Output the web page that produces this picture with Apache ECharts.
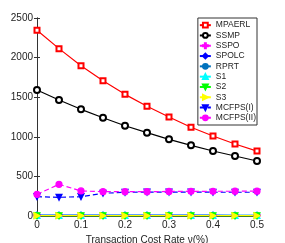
<!DOCTYPE html>
<html><head><meta charset="utf-8">
<script src="https://cdn.jsdelivr.net/npm/echarts@6/dist/echarts.min.js"></script>
<style>html,body{margin:0;padding:0;background:#fff}#c{width:285px;height:243px}</style>
</head><body><div id="c"></div>
<script>
const rates = [0, 0.05, 0.1, 0.15, 0.2, 0.25, 0.3, 0.35, 0.4, 0.45, 0.5];
const MPAERL = [2345, 2113, 1898, 1708, 1536, 1385, 1250, 1120, 1010, 909, 820];
const SSMP = [1591, 1465, 1347, 1241, 1140, 1052, 968, 892, 821, 758, 694];
const SSPO = [6, 6, 6, 6, 6, 6, 6, 6, 6, 6, 6];
const SPOLC = [12, 12, 11, 11, 11, 10, 10, 10, 10, 9, 9];
const RPRT = [3, 3, 3, 3, 3, 3, 3, 3, 3, 3, 3];
const S1 = [8, 8, 8, 8, 8, 8, 8, 8, 8, 8, 8];
const S2 = [2, 2, 2, 2, 2, 2, 2, 2, 2, 2, 2];
const S3 = [4, 4, 4, 4, 4, 4, 4, 4, 4, 4, 4];
const MCFPS1 = [244, 236, 244, 287, 299, 302, 302, 302, 300, 300, 300];
const MCFPS2 = [274, 400, 316, 307, 307, 307, 310, 312, 312, 313, 314];
const yTicks = [0, 500, 1000, 1500, 2000, 2500];
const xTicks = [0, 0.1, 0.2, 0.3, 0.4, 0.5];

const plus = 'path://M4,0L6,0L6,4L10,4L10,6L6,6L6,10L4,10L4,6L0,6L0,4L4,4Z';
function pts(arr){ return arr.map((v,i)=>[rates[i], v]); }
function mk(name, data, color, symbol, opts){
  return Object.assign({
    name, type:'line', data: pts(data), symbol, symbolSize: 6,
    lineStyle:{color, width:1.2}, itemStyle:{color, borderColor: color, borderWidth:1.2},
    animation:false
  }, opts||{});
}
const font = 'Liberation Sans, Arial, sans-serif';
const series = [
  mk('MPAERL', MPAERL, '#ff0000', 'emptyRect', {symbolSize:5}),
  mk('SSMP', SSMP, '#000000', 'emptyCircle'),
  mk('SSPO', SSPO, '#ff00ff', plus),
  mk('SPOLC', SPOLC, '#0000ff', 'diamond'),
  mk('RPRT', RPRT, '#0072bd', 'circle', {symbolSize:4}),
  mk('S1', S1, '#00ffff', 'triangle'),
  mk('S2', S2, '#00ff00', 'triangle', {symbolRotate:180}),
  mk('S3', S3, '#ffff00', 'triangle', {symbolRotate:-90}),
  mk('MCFPS(I)', MCFPS1, '#0000ff', 'triangle', {symbolRotate:180, lineStyle:{color:'#0000ff', width:1.2, type:[5,3]}}),
  mk('MCFPS(II)', MCFPS2, '#ff00ff', 'circle', {symbolSize:6, lineStyle:{color:'#ff00ff', width:1.2, type:[5,3]}})
];
const axisLine = {show:true, lineStyle:{color:'#333', width:1}};
const chart = echarts.init(document.getElementById('c'), null, {renderer:'canvas'});
chart.setOption({
  backgroundColor:'#fff',
  animation:false,
  grid:{left:37, right:28, top:18, bottom:27, containLabel:false, outerBoundsMode:'none'},
  xAxis:[{
    type:'value', min:0, max:0.5, interval:0.1,
    axisLine, axisTick:{show:true, inside:true, length:3, lineStyle:{color:'#333'}},
    axisLabel:{color:'#222', fontSize:10, fontFamily:font, margin:4,
      formatter:v=>{const t=xTicks.find(x=>Math.abs(x-v)<1e-9); return t===undefined?'':String(t);}},
    splitLine:{show:false},
    name:'Transaction Cost Rate \u03bd(%)', nameLocation:'middle', nameGap:16,
    nameTextStyle:{color:'#222', fontSize:10, fontFamily:font}
  },{
    type:'value', min:0, max:0.5, interval:0.1, position:'top',
    axisLine, axisTick:{show:true, inside:true, length:3, lineStyle:{color:'#333'}},
    axisLabel:{show:false}, splitLine:{show:false}
  }],
  yAxis:[{
    type:'value', min:0, max:2500, interval:500,
    axisLine, axisTick:{show:true, inside:true, length:3, lineStyle:{color:'#333'}},
    axisLabel:{color:'#222', fontSize:10, fontFamily:font, margin:4,
      formatter:v=>yTicks.includes(v)?String(v):''},
    splitLine:{show:false},
    name:'Cumulative Wealth', nameLocation:'middle', nameGap:26,
    nameTextStyle:{color:'#222', fontSize:10, fontFamily:font}
  },{
    type:'value', min:0, max:2500, interval:500, position:'right',
    axisLine, axisTick:{show:true, inside:true, length:3, lineStyle:{color:'#333'}},
    axisLabel:{show:false}, splitLine:{show:false}
  }],
  legend:{
    orient:'vertical', right:28, top:18, itemWidth:11, itemHeight:6, itemGap:0,
    padding:[2,1,2,1], borderColor:'#333', borderWidth:1, backgroundColor:'#fff',
    textStyle:{fontSize:8.5, fontFamily:font, color:'#222', lineHeight:10.3},
    data: series.map(s=>s.name)
  },
  series
});
</script></body></html>
